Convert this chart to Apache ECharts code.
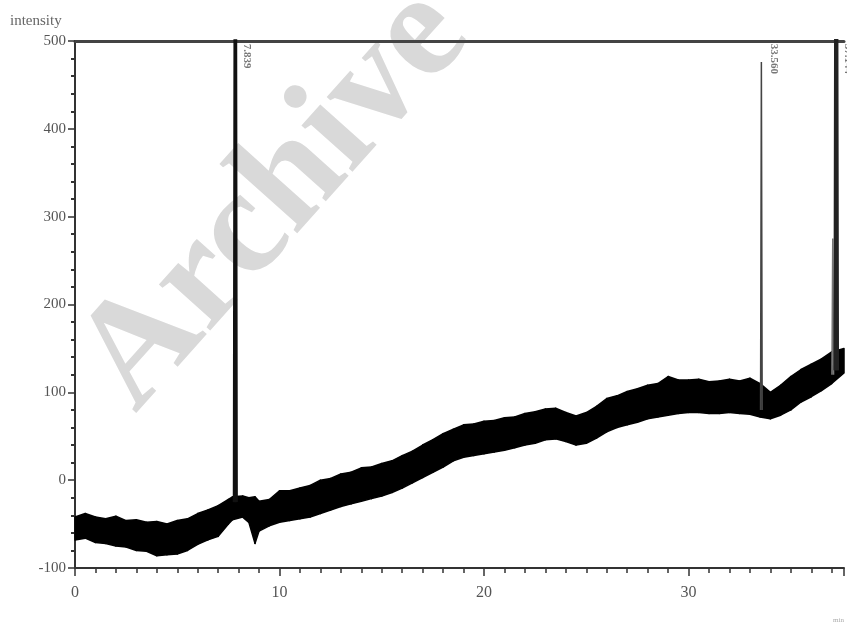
<!DOCTYPE html>
<html lang="en">
<head>
    <meta charset="UTF-8">
    <title>chromatogram</title>
    <script src="https://cdn.jsdelivr.net/npm/echarts@6/dist/echarts.min.js"></script>
    <style>
        html, body { margin: 0; padding: 0; background: #fff; }
        #main { width: 847px; height: 627px; }
    </style>
</head>
<body>
    <div id="main"></div>
    <script>
        // retention time (min) of the baseline samples
        var times = [0, 0.5, 1, 1.5, 2, 2.5, 3, 3.5, 4, 4.5, 5, 5.5, 6, 6.5, 7, 7.5, 7.7,
            8.2, 8.5, 8.8, 9, 9.5, 10, 10.5, 11, 11.5, 12, 12.5, 13, 13.5, 14, 14.5, 15,
            15.5, 16, 16.5, 17, 17.5, 18, 18.5, 19, 19.5, 20, 20.5, 21, 21.5, 22, 22.5,
            23, 23.5, 24, 24.5, 25, 25.5, 26, 26.5, 27, 27.5, 28, 28.5, 29, 29.5, 30,
            30.5, 31, 31.5, 32, 32.5, 33, 33.5, 34, 34.5, 35, 35.5, 36, 36.5, 37, 37.6];
        // upper edge of the noisy baseline
        var upper = [-42, -38, -42, -44, -41, -46, -45, -48, -47, -50, -46, -44, -38, -34, -29, -22, -19,
            -18, -20, -19, -24, -22, -12, -12, -9, -6, 0, 2, 7, 9, 14, 15, 19,
            22, 28, 33, 40, 46, 53, 58, 63, 64, 67, 68, 71, 72, 76, 78,
            81, 82, 77, 73, 77, 84, 93, 96, 101, 104, 108, 110, 118, 114, 114,
            115, 112, 113, 115, 113, 116, 110, 100, 108, 118, 126, 132, 138, 146, 150];
        // lower edge of the noisy baseline
        var lower = [-68, -66, -71, -72, -75, -76, -80, -81, -86, -85, -84, -80, -73, -68, -64, -50, -45,
            -42, -48, -72, -58, -52, -48, -46, -44, -42, -38, -34, -30, -27, -24, -21, -18,
            -14, -9, -3, 3, 9, 15, 22, 26, 28, 30, 32, 34, 37, 40, 42,
            46, 47, 44, 40, 42, 48, 55, 60, 63, 66, 70, 72, 74, 76, 77,
            77, 76, 76, 77, 76, 75, 72, 70, 74, 80, 89, 95, 102, 110, 122];

        // peaks: time, base, apex, label
        var peakTimes = [7.839, 33.56, 37.05, 37.22];
        var peakBase = [-25, 80, 120, 125];
        var peakApex = [620, 476, 275, 620];
        var peakNames = ['7.839', '33.560', '', '37.144'];
        var peakWidths = [3.5, 1.5, 1.5, 4];
        var peakColors = ['#111', '#444', '#777', '#222'];

        var xTicks = [0, 10, 20, 30];
        var yTicks = [-100, 0, 100, 200, 300, 400, 500];

        var serif = '"Liberation Serif", "DejaVu Serif", serif';

        var myChart = echarts.init(document.getElementById('main'));

        // noisy baseline drawn as a filled band between lower and upper edges
        var bandData = times.map(function (t, i) { return [t, lower[i], upper[i]]; });

        function renderBand(params, api) {
            var i = params.dataIndex;
            if (i >= times.length - 1) return;
            var pts = [
                api.coord([times[i], upper[i]]),
                api.coord([times[i + 1], upper[i + 1]]),
                api.coord([times[i + 1], lower[i + 1]]),
                api.coord([times[i], lower[i]])
            ];
            return {
                type: 'polygon',
                shape: { points: pts },
                style: { fill: '#000', stroke: '#000', lineWidth: 1.5, lineJoin: 'round' }
            };
        }

        var series = [{
            name: 'baseline',
            type: 'custom',
            renderItem: renderBand,
            data: bandData,
            encode: { x: 0, y: [1, 2] },
            z: 3
        }];

        peakTimes.forEach(function (t, i) {
            series.push({
                name: 'peak' + i,
                type: 'line',
                data: [[t - 0.04, peakBase[i]], [t, peakApex[i]], [t + 0.04, peakBase[i]]],
                symbol: 'none',
                clip: true,
                lineStyle: { color: peakColors[i], width: peakWidths[i] },
                z: 4
            });
        });

        // rotated retention time labels next to the peaks
        series.push({
            name: 'labels',
            type: 'scatter',
            symbolSize: 0,
            data: peakTimes.map(function (t, i) { return { value: [t, 497], name: peakNames[i] }; })
                .filter(function (d) { return d.name; }),
            label: {
                show: true,
                formatter: '{b}',
                rotate: -90,
                position: [12, 0],
                align: 'left',
                verticalAlign: 'middle',
                fontFamily: serif,
                fontSize: 11,
                fontWeight: 'bold',
                color: '#555'
            },
            z: 5
        });

        var option = {
            animation: false,
            backgroundColor: '#fff',
            grid: { left: 75, right: 0, top: 41, bottom: 59 },
            graphic: [{
                type: 'text',
                left: 10,
                top: 14,
                style: { text: 'intensity', font: '15px ' + serif, fill: '#666' }
            }, {
                type: 'text',
                x: 275,
                y: 200,
                rotation: 0.84,
                z: -10,
                style: {
                    text: 'Archive',
                    font: 'bold 150px ' + serif,
                    fill: '#d9d9d9',
                    textAlign: 'center',
                    textVerticalAlign: 'middle'
                }
            }, {
                type: 'text',
                right: 3,
                bottom: 3,
                style: { text: 'min', font: '7px ' + serif, fill: '#aaa' }
            }],
            xAxis: [{
                type: 'value',
                min: 0,
                max: 37.6,
                interval: 10,
                axisLine: { onZero: false, lineStyle: { color: '#333', width: 2 } },
                axisTick: { show: true, length: 8, lineStyle: { color: '#333', width: 1.5 } },
                minorTick: { show: true, splitNumber: 10, length: 5, lineStyle: { color: '#333', width: 1.5 } },
                axisLabel: {
                    margin: 17,
                    fontFamily: serif,
                    fontSize: 16,
                    color: '#555',
                    formatter: function (v) { return xTicks.indexOf(v) >= 0 ? String(v) : ''; }
                },
                splitLine: { show: false }
            }, {
                type: 'value',
                position: 'top',
                min: 0,
                max: 37.6,
                axisLine: { show: true, onZero: false, lineStyle: { color: '#444', width: 3 } },
                axisTick: { show: false },
                axisLabel: { show: false },
                splitLine: { show: false }
            }],
            yAxis: {
                type: 'value',
                min: -100,
                max: 500,
                interval: 100,
                axisLine: { show: true, onZero: false, lineStyle: { color: '#333', width: 2 } },
                axisTick: { show: true, length: 7, lineStyle: { color: '#333', width: 1.5 } },
                minorTick: { show: true, splitNumber: 5, length: 4, lineStyle: { color: '#333', width: 2 } },
                axisLabel: {
                    margin: 9,
                    fontFamily: serif,
                    fontSize: 15,
                    color: '#555',
                    formatter: function (v) { return yTicks.indexOf(v) >= 0 ? String(v) : ''; }
                },
                splitLine: { show: false }
            },
            series: series
        };

        myChart.setOption(option);
    </script>
</body>
</html>
